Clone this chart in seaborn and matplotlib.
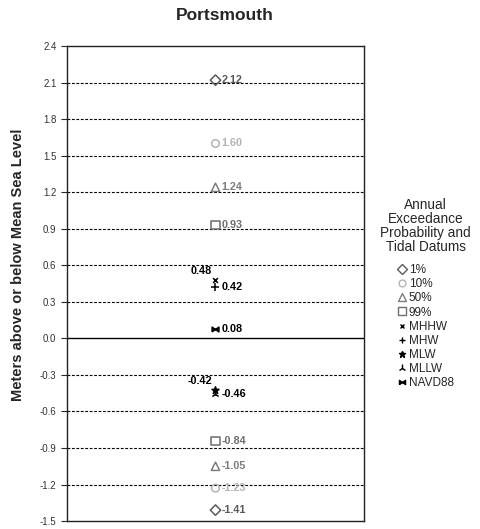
import matplotlib
matplotlib.use("Agg")
import matplotlib.pyplot as plt
from matplotlib.lines import Line2D
import numpy as np
import pandas as pd
import seaborn as sns

# Series and values
prob_series = ["1%", "10%", "50%", "99%"]
prob_upper = [2.12, 1.60, 1.24, 0.93]
prob_lower = [-1.41, -1.23, -1.05, -0.84]
tidal_series = ["MHHW", "MHW", "MLW", "MLLW", "NAVD88"]
tidal_values = [0.48, 0.42, -0.42, -0.46, 0.08]
yticks = np.round(np.arange(-1.5, 2.41, 0.3), 1)

rows = [(s, v) for s, v in zip(prob_series, prob_upper)]
rows += [(s, v) for s, v in zip(prob_series, prob_lower)]
rows += [(s, v) for s, v in zip(tidal_series, tidal_values)]
df = pd.DataFrame(rows, columns=["series", "value"])
df["site"] = "Portsmouth"

bowtie = [(-1, -0.7), (-1, 0.7), (1, -0.7), (1, 0.7), (-1, -0.7)]
style = {
    "1%": dict(marker="D", color="#5a5a5a", filled=False, size=28),
    "10%": dict(marker="o", color="#b4b4b4", filled=False, size=30),
    "50%": dict(marker="^", color="#7d7d7d", filled=False, size=36),
    "99%": dict(marker="s", color="#6e6e6e", filled=False, size=36),
    "MHHW": dict(marker="x", color="black", filled=True, size=12),
    "MHW": dict(marker="+", color="black", filled=True, size=26),
    "MLW": dict(marker="*", color="black", filled=True, size=28),
    "MLLW": dict(marker="2", color="black", filled=True, size=32),
    "NAVD88": dict(marker=bowtie, color="black", filled=True, size=24),
}
left_labels = {"MHHW", "MLW"}

sns.set_style("white")
plt.rcParams["font.family"] = ["Liberation Sans", "DejaVu Sans"]

fig = plt.figure(figsize=(4.81, 5.29), dpi=100)
ax = fig.add_axes([0.139, 0.015, 0.618, 0.898])

for s, g in df.groupby("series", sort=False):
    st = style[s]
    if st["filled"]:
        sns.scatterplot(data=g, x="site", y="value", ax=ax, marker=st["marker"],
                        color=st["color"], s=st["size"], linewidth=1.1,
                        edgecolor=st["color"], legend=False, zorder=4)
    else:
        sns.scatterplot(data=g, x="site", y="value", ax=ax, marker=st["marker"],
                        s=st["size"], facecolors="none", edgecolor=st["color"],
                        linewidth=1.1, legend=False, zorder=4)
    for v in g["value"]:
        if s in left_labels:
            ax.text(-0.012, v + 0.07, f"{v:.2f}", ha="right", va="center",
                    fontsize=7.8, fontweight="bold", color=st["color"],
                    family=["Liberation Sans Narrow", "Liberation Sans"], zorder=5)
        else:
            ax.text(0.02, v, f"{v:.2f}", ha="left", va="center",
                    fontsize=7.8, fontweight="bold", color=st["color"],
                    family=["Liberation Sans Narrow", "Liberation Sans"], zorder=5)

# gridlines
for t in yticks[1:-1]:
    if t == 0:
        ax.axhline(t, color="black", lw=1.0, zorder=1)
    else:
        ax.axhline(t, color="black", lw=0.8, ls=(0, (2.5, 1.5)), zorder=1)

ax.set_xlim(-0.5, 0.5)
ax.set_ylim(-1.5, 2.4)
ax.set_yticks(yticks)
ax.set_yticklabels([f"{t:.1f}" for t in yticks], fontsize=7, color="#333333")
ax.set_xticks([])
ax.set_xlabel("")
ax.set_ylabel("Meters above or below Mean Sea Level", fontsize=10.5,
              fontweight="bold")
ax.yaxis.set_label_coords(-0.141, 0.539)
ax.tick_params(axis="y", direction="out", length=4, width=0.8, left=True)
for sp in ax.spines.values():
    sp.set_color("#222222")
    sp.set_linewidth(1.0)
ax.set_title("Portsmouth", fontsize=12.5, fontweight="bold", pad=19, x=0.53)

handles = []
for s in prob_series + tidal_series:
    st = style[s]
    handles.append(Line2D([], [], ls="none", marker=st["marker"],
                          markersize=np.sqrt(st["size"]) * 0.9,
                          markerfacecolor=st["color"] if st["filled"] else "none",
                          markeredgecolor=st["color"], markeredgewidth=1.0,
                          label=s))
leg = fig.legend(handles=handles, loc="upper center",
                 bbox_to_anchor=(0.885, 0.636), frameon=False,
                 title="Annual\nExceedance\nProbability and\nTidal Datums",
                 fontsize=8.5, title_fontsize=9.8, handlelength=0.7,
                 handletextpad=0.25, labelspacing=0.18, borderpad=0)
leg._legend_box.align = "center"
leg._legend_box.sep = 7
leg.get_title().set_multialignment("center")
leg.get_title().set_linespacing(1.0)

fig.savefig("out.png", dpi=100)
